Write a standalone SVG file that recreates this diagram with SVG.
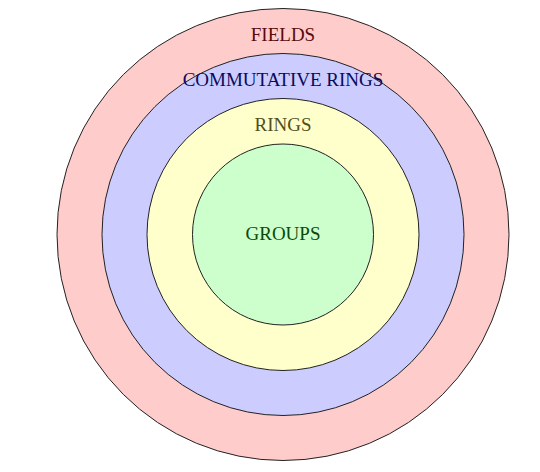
<svg xmlns="http://www.w3.org/2000/svg" width="540" height="472" viewBox="0 0 540 472">
<style>
circle{stroke:#222;stroke-width:1}
text{font-family:"Liberation Serif","Times New Roman",serif;font-size:19px;text-anchor:middle}
</style>
<rect width="540" height="472" fill="#fff"/>
<g id="fields"><circle cx="283" cy="234.5" r="226" fill="#ffcccc"/><text x="283" y="40.5" fill="#5a0a0a">FIELDS</text></g>
<g id="commutative-rings"><circle cx="283" cy="234.5" r="181" fill="#ccccff"/><text x="283" y="85.5" fill="#0a0a5a">COMMUTATIVE RINGS</text></g>
<g id="rings"><circle cx="283" cy="234.5" r="136" fill="#ffffcc"/><text x="283" y="130.5" fill="#50501a">RINGS</text></g>
<g id="groups"><circle cx="283" cy="234.5" r="90.5" fill="#ccffcc"/><text x="283" y="240" fill="#0a4a0a">GROUPS</text></g>
<g id="connectors"/>
</svg>
